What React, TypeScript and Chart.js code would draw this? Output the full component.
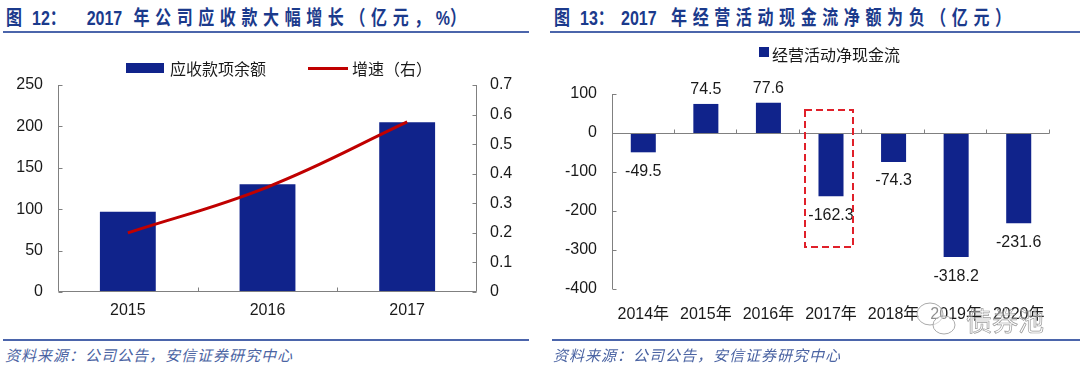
import React, { useEffect, useRef } from 'react';
import { Chart, registerables } from 'chart.js';

Chart.register(...registerables);

// ---------- data ----------
const receivableYears = ['2015', '2016', '2017'];
const receivableBalance = [97, 130, 205];
const receivableGrowth = [0.2, 0.355, 0.575];

const cashFlowYears = ['2014年', '2015年', '2016年', '2017年', '2018年', '2019年', '2020年'];
const netOperatingCashFlow = [-49.5, 74.5, 77.6, -162.3, -74.3, -318.2, -231.6];
const highlightCategory = 3;
const highlightValueRange = [59, -293];

// ---------- style ----------
const BLUE = '#10238B';
const RED = '#C00000';
const AXIS = '#808080';
const TEXT = '#1A1A1A';
const TITLE = '#1B3A8C';
const RULE = '#2B4A9C';
const SOURCE = '#4B64A3';
const FONT = '"Liberation Sans", Arial, "Noto Sans CJK SC", sans-serif';
const CJK = '"Noto Sans CJK SC", "Liberation Sans", sans-serif';

const line = (ctx: CanvasRenderingContext2D, x1: number, y1: number, x2: number, y2: number) => {
  ctx.moveTo(x1, y1);
  ctx.lineTo(x2, y2);
};

const leftAxesPlugin = {
  id: 'leftAxes',
  afterDatasetsDraw(chart: any) {
    const { ctx, chartArea: a, scales } = chart;
    const { x, y, y1 } = scales;
    const L = Math.round(a.left) + 0.5;
    const R = Math.round(a.right) - 0.5;
    const B = Math.round(a.bottom) - 0.5;
    const T = Math.round(a.top);
    ctx.save();
    ctx.strokeStyle = AXIS;
    ctx.lineWidth = 1;
    ctx.beginPath();
    line(ctx, L, T, L, B);
    line(ctx, L, B, R, B);
    line(ctx, R, B, R, T);
    y.ticks.forEach((t: any) => {
      const py = Math.round(y.getPixelForValue(t.value)) + 0.5;
      line(ctx, L, py, L + 4, py);
    });
    y1.ticks.forEach((t: any) => {
      const py = Math.round(y1.getPixelForValue(t.value)) + 0.5;
      line(ctx, R, py, R - 4, py);
    });
    for (let i = 1; i < receivableYears.length; i++) {
      const px = Math.round(x.getPixelForValue(i - 0.5)) + 0.5;
      line(ctx, px, B, px, B - 4);
    }
    ctx.stroke();
    ctx.restore();
  },
};

const rightAxesPlugin = {
  id: 'rightAxes',
  afterDatasetsDraw(chart: any) {
    const { ctx, chartArea: a, scales } = chart;
    const { x, y } = scales;
    const L = Math.round(a.left) + 0.5;
    const R = Math.round(a.right) - 0.5;
    const Z = Math.round(y.getPixelForValue(0)) + 0.5;
    ctx.save();
    ctx.strokeStyle = AXIS;
    ctx.lineWidth = 1;
    ctx.beginPath();
    line(ctx, L, Math.round(a.top), L, Math.round(a.bottom));
    line(ctx, L, Z, R, Z);
    y.ticks.forEach((t: any) => {
      const py = Math.round(y.getPixelForValue(t.value)) + 0.5;
      line(ctx, L, py, L + 4, py);
    });
    for (let i = 1; i <= cashFlowYears.length; i++) {
      const px = Math.round(x.getPixelForValue(i - 0.5)) - 0.5;
      line(ctx, px, Z, px, Z - 4);
    }
    ctx.stroke();

    // value labels
    const meta = chart.getDatasetMeta(0);
    ctx.fillStyle = TEXT;
    ctx.font = `16px ${FONT}`;
    ctx.textAlign = 'center';
    ctx.textBaseline = 'middle';
    meta.data.forEach((el: any, i: number) => {
      const v = netOperatingCashFlow[i];
      const ty = v >= 0 ? el.y - 14 : el.y + 19;
      ctx.fillText(v.toFixed(1), el.x, ty);
    });

    // highlight box
    const cw = x.getPixelForValue(1) - x.getPixelForValue(0);
    const cx = x.getPixelForValue(highlightCategory);
    const bx1 = cx - cw * 0.42;
    const bx2 = cx + cw * 0.35;
    const by1 = y.getPixelForValue(highlightValueRange[0]);
    const by2 = y.getPixelForValue(highlightValueRange[1]);
    ctx.strokeStyle = '#E0202A';
    ctx.lineWidth = 2;
    ctx.setLineDash([7, 4]);
    ctx.strokeRect(Math.round(bx1), Math.round(by1), Math.round(bx2 - bx1), Math.round(by2 - by1));
    ctx.restore();
  },
};

const tickFont = { family: FONT, size: 16 };

function LeftChart() {
  const ref = useRef<HTMLCanvasElement>(null);
  useEffect(() => {
    if (!ref.current) return;
    const chart = new Chart(ref.current, {
      data: {
        labels: receivableYears,
        datasets: [
          {
            type: 'line',
            label: '增速（右）',
            data: receivableGrowth,
            yAxisID: 'y1',
            borderColor: RED,
            borderWidth: 3,
            pointRadius: 0,
            tension: 0.4,
            order: 0,
          } as any,
          {
            type: 'bar',
            label: '应收款项余额',
            data: receivableBalance,
            yAxisID: 'y',
            backgroundColor: BLUE,
            categoryPercentage: 1,
            barPercentage: 0.4,
            order: 1,
          } as any,
        ],
      },
      options: {
        responsive: false,
        animation: false,
        devicePixelRatio: 1,
        layout: { padding: { top: 45, left: 0, right: 0, bottom: 0 } },
        plugins: { legend: { display: false }, tooltip: { enabled: false } },
        scales: {
          x: {
            grid: { display: false, drawTicks: false },
            border: { display: false },
            ticks: { font: tickFont, color: TEXT, padding: 9 },
            afterFit: (s: any) => { s.height = 38; },
          },
          y: {
            position: 'left',
            min: 0,
            max: 250,
            grid: { display: false, drawTicks: false },
            border: { display: false },
            ticks: { stepSize: 50, font: tickFont, color: TEXT, padding: 15 },
            afterFit: (s: any) => { s.width = 58; },
          },
          y1: {
            position: 'right',
            min: 0,
            max: 0.7,
            grid: { display: false, drawTicks: false },
            border: { display: false },
            ticks: { stepSize: 0.1, font: tickFont, color: TEXT, padding: 13 },
            afterFit: (s: any) => { s.width = 63; },
          },
        },
      } as any,
      plugins: [leftAxesPlugin],
    });
    return () => chart.destroy();
  }, []);
  return (
    <canvas
      ref={ref}
      width={540}
      height={290}
      style={{ position: 'absolute', left: 0, top: 40, width: 540, height: 290 }}
    />
  );
}

function RightChart() {
  const ref = useRef<HTMLCanvasElement>(null);
  useEffect(() => {
    if (!ref.current) return;
    const chart = new Chart(ref.current, {
      type: 'bar',
      data: {
        labels: cashFlowYears,
        datasets: [
          {
            label: '经营活动净现金流',
            data: netOperatingCashFlow,
            backgroundColor: BLUE,
            categoryPercentage: 1,
            barPercentage: 0.4,
          },
        ],
      },
      options: {
        responsive: false,
        animation: false,
        devicePixelRatio: 1,
        layout: { padding: { top: 54, left: 0, right: 30, bottom: 0 } },
        plugins: { legend: { display: false }, tooltip: { enabled: false } },
        scales: {
          x: {
            grid: { display: false, drawTicks: false },
            border: { display: false },
            ticks: { font: tickFont, color: TEXT, padding: 16, maxRotation: 0, autoSkip: false },
            afterFit: (s: any) => { s.height = 41; },
          },
          y: {
            min: -400,
            max: 100,
            grid: { display: false, drawTicks: false },
            border: { display: false },
            ticks: { stepSize: 100, font: tickFont, color: TEXT, padding: 15 },
            afterFit: (s: any) => { s.width = 72; },
          },
        },
      } as any,
      plugins: [rightAxesPlugin],
    });
    return () => chart.destroy();
  }, []);
  return (
    <canvas
      ref={ref}
      width={540}
      height={290}
      style={{ position: 'absolute', left: 540, top: 40, width: 540, height: 290 }}
    />
  );
}

const cjkSpan = (txt: string, ml = 0) => (
  <span style={{ fontFamily: CJK, letterSpacing: '7px', marginLeft: ml }}>{txt}</span>
);
const ascSpan = (txt: string, ml = 0) => (
  <span style={{ fontFamily: FONT, marginLeft: ml, whiteSpace: 'pre' }}>{txt}</span>
);

const titleStyle = (left: number): React.CSSProperties => ({
  position: 'absolute',
  left,
  top: 5,
  fontSize: 20,
  lineHeight: '24px',
  fontWeight: 'bold',
  color: TITLE,
  whiteSpace: 'nowrap',
  transform: 'scaleX(0.8)',
  transformOrigin: 'left center',
});

const sourceStyle = (left: number): React.CSSProperties => ({
  position: 'absolute',
  left,
  top: 345,
  fontSize: 15,
  lineHeight: '20px',
  fontStyle: 'italic',
  letterSpacing: '1px',
  color: SOURCE,
  fontFamily: CJK,
  whiteSpace: 'nowrap',
});

const rule = (left: number, width: number, top: number): React.CSSProperties => ({
  position: 'absolute',
  left,
  width,
  top,
  height: 2,
  background: RULE,
  opacity: 0.85,
});

const legendText: React.CSSProperties = {
  position: 'absolute',
  fontFamily: CJK,
  fontSize: 16,
  lineHeight: '20px',
  color: TEXT,
  whiteSpace: 'nowrap',
};

export default function App() {
  return (
    <div
      style={{
        position: 'absolute',
        left: 0,
        top: 0,
        width: 1080,
        height: 370,
        background: '#fff',
        overflow: 'hidden',
      }}
    >
      {/* titles */}
      <div style={titleStyle(6)}>
        {cjkSpan('图')}
        {ascSpan(' 12')}
        {cjkSpan('：')}
        {ascSpan('2017', 19)}
        {cjkSpan('年公司应收款大幅增长（亿元，', 14)}
        {ascSpan('%')}
        {cjkSpan('）')}
      </div>
      <div style={titleStyle(554)}>
        {cjkSpan('图')}
        {ascSpan(' 13')}
        {cjkSpan('：')}
        {ascSpan('2017', 2)}
        {cjkSpan('年经营活动现金流净额为负（亿元）', 18)}
      </div>
      <div style={rule(3, 526, 31)} />
      <div style={rule(550, 530, 31)} />

      <LeftChart />
      <RightChart />

      {/* left legend */}
      <div style={{ position: 'absolute', left: 126, top: 63, width: 38, height: 10, background: BLUE }} />
      <div style={{ ...legendText, left: 170, top: 58 }}>应收款项余额</div>
      <div style={{ position: 'absolute', left: 308, top: 67, width: 40, height: 3, background: RED }} />
      <div style={{ ...legendText, left: 352, top: 58 }}>增速（右）</div>

      {/* right legend */}
      <div style={{ position: 'absolute', left: 759, top: 47, width: 10, height: 10, background: BLUE }} />
      <div style={{ ...legendText, left: 772, top: 44 }}>经营活动净现金流</div>

      {/* watermark */}
      <svg
        width={60}
        height={45}
        style={{ position: 'absolute', left: 908, top: 296 }}
      >
        <ellipse cx={22} cy={18} rx={13} ry={11} fill="rgba(255,255,255,0.5)" stroke="#AAAAAA" strokeWidth={1} />
        <ellipse cx={36} cy={29} rx={11} ry={9} fill="rgba(255,255,255,0.5)" stroke="#AAAAAA" strokeWidth={1} />
      </svg>
      <div
        style={{
          position: 'absolute',
          left: 966,
          top: 305,
          fontFamily: CJK,
          fontSize: 26,
          lineHeight: '30px',
          color: 'rgba(255,255,255,0.35)',
          WebkitTextStroke: '0.7px #9A9A9A',
          whiteSpace: 'nowrap',
        } as React.CSSProperties}
      >
        债券池
      </div>

      {/* footers */}
      <div style={rule(3, 526, 339)} />
      <div style={rule(552, 528, 339)} />
      <div style={sourceStyle(5)}>资料来源：公司公告，安信证券研究中心</div>
      <div style={sourceStyle(553)}>资料来源：公司公告，安信证券研究中心</div>
    </div>
  );
}
